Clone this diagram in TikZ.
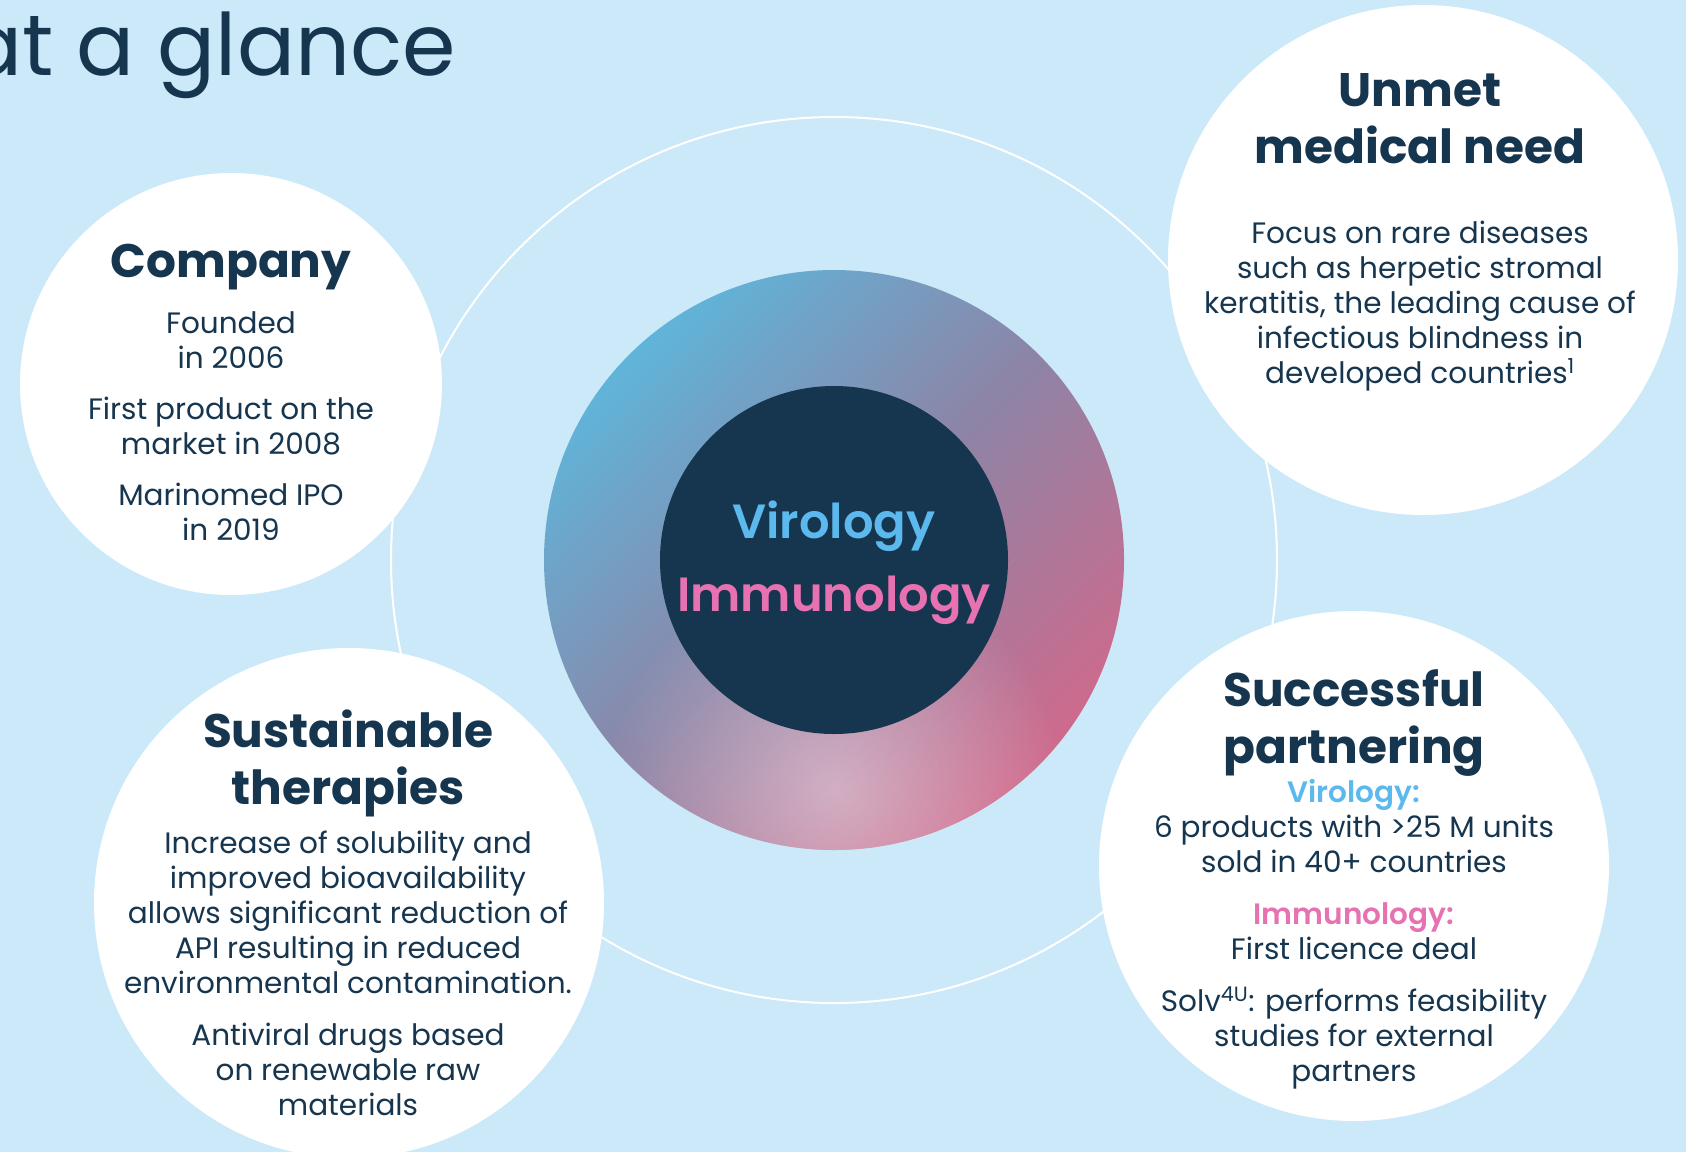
\documentclass[tikz,border=0pt]{standalone}
\usepackage{fontspec}
\setmainfont{Poppins}
\newfontfamily\semibold{Poppins SemiBold}
\usepackage{xcolor}
\usetikzlibrary{positioning,fadings}

\definecolor{bgblue}{HTML}{CCE9F9}
\definecolor{navy}{HTML}{16354F}
\definecolor{viroblue}{HTML}{5CB9EE}
\definecolor{immpink}{HTML}{E672B2}

\pgfdeclarehorizontalshading{ringshade}{100bp}{color(0bp)=(rgb,255:red,150;green,212;blue,234); color(14bp)=(rgb,255:red,130;green,203;blue,230); color(25bp)=(rgb,255:red,96;green,180;blue,217); color(50bp)=(rgb,255:red,141;green,132;blue,166); color(75bp)=(rgb,255:red,206;green,106;blue,140); color(86bp)=(rgb,255:red,226;green,96;blue,128); color(100bp)=(rgb,255:red,226;green,96;blue,128)}
\tikzfading[name=glow, inner color=transparent!0, outer color=transparent!100]

\tikzset{
  bubble/.style={circle, fill=white, inner sep=0pt},
  headtext/.style={text=navy, font=\bfseries\fontsize{47}{57}\selectfont, align=center, inner sep=0pt},
  bodytext/.style={text=navy, font=\fontsize{29.5}{35}\selectfont, align=center, inner sep=0pt},
  coretext/.style={font=\semibold\fontsize{48}{60}\selectfont, anchor=base, inner sep=0pt}
}

\begin{document}
\begin{tikzpicture}[x=1pt,y=-1pt]
\useasboundingbox (0,0) rectangle (1686,1152);
\fill[bgblue] (0,0) rectangle (1686,1152);
\clip (0,0) rectangle (1686,1152);

%title
\node[text=navy, font=\fontsize{86}{96}\selectfont, anchor=base east, inner sep=0pt] (title) at (456,75) {at a glance};

%thin ring
\draw[white, line width=2pt] (834,560) circle (443);

%gradient ring
\begin{scope}
\clip (834,560) circle (290);
\shade[shading=ringshade, shading angle=-45] (834,560) circle (290);
\fill[white, opacity=0.42, path fading=glow] (835,790) circle (230);
\end{scope}
\node[circle, fill=navy, minimum size=348pt, inner sep=0pt] (core) at (834,560) {};
\node[coretext, text=viroblue] (virology) at (834,538) {Virology};
\node[coretext, text=immpink] (immunology) at (834,611) {Immunology};

%bubbles
\node[bubble, minimum size=422pt] (company) at (231,384) {};
\node[bubble, minimum size=510pt] (unmet) at (1423,260) {};
\node[bubble, minimum size=510pt] (partner) at (1354,866) {};
\node[bubble, minimum size=510pt] (sustain) at (349,903) {};

%company (base = last line)
\node[headtext, anchor=base] (companyhead) at (231,277) {Company};
\node[bodytext, anchor=base] (companytext) at (231,540) {Founded\\in 2006\\[16pt]First product on the\\market in 2008\\[16pt]Marinomed IPO\\in 2019};

%unmet need
\node[headtext, anchor=base] (unmethead) at (1420,163) {Unmet\\medical need};
\node[bodytext, anchor=base] (unmettext) at (1420,383) {Focus on rare diseases\\such as herpetic stromal\\keratitis, the leading cause of\\infectious blindness in\\developed countries\textsuperscript{1}};

%partnering
\node[headtext, anchor=base] (partnerhead) at (1354,763) {Successful\\partnering};
\node[bodytext, anchor=base] (partnertext) at (1354,1081) {{\semibold\color{viroblue}Virology:}\\6 products with >25 M units\\sold in 40+ countries\\[17pt]{\semibold\color{immpink}Immunology:}\\First licence deal\\[17pt]Solv\textsuperscript{4U}: performs feasibility\\studies for external\\partners};

%sustainable
\node[headtext, anchor=base] (sustainhead) at (348,804) {Sustainable\\therapies};
\node[bodytext, anchor=base] (sustaintext) at (348,1115) {Increase of solubility and\\improved bioavailability\\allows significant reduction of\\API resulting in reduced\\environmental contamination.\\[17pt]Antiviral drugs based\\on renewable raw\\materials};
\end{tikzpicture}
\end{document}
